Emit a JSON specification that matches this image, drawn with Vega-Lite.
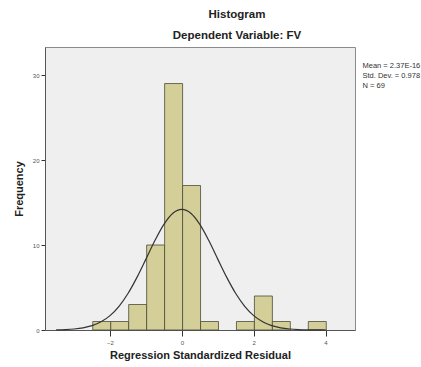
{
  "$schema": "https://vega.github.io/schema/vega-lite/v6.json",
  "autosize": "none",
  "width": 310,
  "height": 283,
  "padding": {"left": 45, "top": 47, "right": 66, "bottom": 37},
  "background": "white",
  "title": {
    "text": "Histogram",
    "subtitle": "Dependent Variable: FV",
    "anchor": "middle",
    "dx": 37,
    "offset": 6,
    "font": "Liberation Sans",
    "fontSize": 11.5,
    "fontWeight": "bold",
    "color": "#222",
    "subtitleFont": "Liberation Sans",
    "subtitleFontSize": 11.5,
    "subtitleFontWeight": "bold",
    "subtitleColor": "#222",
    "subtitlePadding": 9
  },
  "config": {
    "view": {"fill": "#efefef", "stroke": "#8a8a8a", "strokeWidth": 1},
    "font": "Liberation Sans"
  },
  "datasets": {
    "bins": [
      {"start": -2.48, "end": -1.98, "count": 1},
      {"start": -1.98, "end": -1.48, "count": 1},
      {"start": -1.48, "end": -0.98, "count": 3},
      {"start": -0.98, "end": -0.48, "count": 10},
      {"start": -0.48, "end": 0.02, "count": 29},
      {"start": 0.02, "end": 0.52, "count": 17},
      {"start": 0.52, "end": 1.02, "count": 1},
      {"start": 1.52, "end": 2.02, "count": 1},
      {"start": 2.02, "end": 2.52, "count": 4},
      {"start": 2.52, "end": 3.02, "count": 1},
      {"start": 3.52, "end": 4.02, "count": 1}
    ],
    "curve": [
      {"x": -3.5, "y": 0.021}, {"x": -3.25, "y": 0.052}, {"x": -3.0, "y": 0.119},
      {"x": -2.75, "y": 0.255}, {"x": -2.5, "y": 0.51}, {"x": -2.25, "y": 0.96},
      {"x": -2.0, "y": 1.69}, {"x": -1.75, "y": 2.79}, {"x": -1.5, "y": 4.29},
      {"x": -1.25, "y": 6.19}, {"x": -1.0, "y": 8.34}, {"x": -0.75, "y": 10.52},
      {"x": -0.5, "y": 12.42}, {"x": -0.25, "y": 13.73}, {"x": 0.0, "y": 14.19},
      {"x": 0.25, "y": 13.73}, {"x": 0.5, "y": 12.42}, {"x": 0.75, "y": 10.52},
      {"x": 1.0, "y": 8.34}, {"x": 1.25, "y": 6.19}, {"x": 1.5, "y": 4.29},
      {"x": 1.75, "y": 2.79}, {"x": 2.0, "y": 1.69}, {"x": 2.25, "y": 0.96},
      {"x": 2.5, "y": 0.51}, {"x": 2.75, "y": 0.255}, {"x": 3.0, "y": 0.119},
      {"x": 3.25, "y": 0.052}, {"x": 3.5, "y": 0.021}, {"x": 3.75, "y": 0.008},
      {"x": 4.0, "y": 0.003}
    ],
    "stats": [
      {"stat": "Mean = 2.37E-16", "order": 1},
      {"stat": "Std. Dev. = 0.978", "order": 2},
      {"stat": "N = 69", "order": 3}
    ]
  },
  "layer": [
    {
      "data": {"name": "bins"},
      "mark": {"type": "rect", "fill": "#d4cf98", "stroke": "#4a4a3a", "strokeWidth": 0.8},
      "encoding": {
        "x": {
          "field": "start", "type": "quantitative",
          "scale": {"domain": [-3.81, 4.82], "nice": false, "zero": false},
          "axis": {
            "values": [-2, 0, 2, 4],
            "title": "Regression Standardized Residual",
            "titleFontSize": 11, "titleFontWeight": "bold", "titleColor": "#222",
            "titlePadding": 4,
            "labelFontSize": 6, "labelColor": "#555", "labelPadding": 3,
            "tickSize": 6, "tickColor": "#333", "domain": true, "domainColor": "#555",
            "grid": false
          }
        },
        "x2": {"field": "end"},
        "y": {
          "field": "count", "type": "quantitative",
          "scale": {"domain": [0, 33.3], "nice": false},
          "axis": {
            "values": [0, 10, 20, 30],
            "title": "Frequency",
            "titleFontSize": 11, "titleFontWeight": "bold", "titleColor": "#222",
            "titlePadding": 8,
            "labelFontSize": 6, "labelColor": "#555", "labelPadding": 2,
            "tickSize": 4, "tickColor": "#333", "domainColor": "#555",
            "grid": false
          }
        },
        "y2": {"datum": 0}
      }
    },
    {
      "data": {"name": "curve"},
      "mark": {"type": "line", "color": "#333333", "strokeWidth": 1.2, "interpolate": "monotone"},
      "encoding": {
        "x": {"field": "x", "type": "quantitative"},
        "y": {"field": "y", "type": "quantitative"}
      }
    },
    {
      "data": {"name": "stats"},
      "mark": {"type": "point", "opacity": 0},
      "encoding": {
        "x": {"datum": 0},
        "y": {"datum": 0},
        "color": {
          "field": "stat", "type": "nominal",
          "sort": {"field": "order"},
          "scale": {"range": ["#333", "#333", "#333"]},
          "legend": {
            "title": " ",
            "titleFontSize": 6,
            "titlePadding": 9,
            "orient": "right",
            "offset": 0,
            "padding": 0,
            "symbolSize": 0,
            "symbolOpacity": 0,
            "symbolStrokeWidth": 0,
            "labelFontSize": 7.5,
            "labelColor": "#333",
            "labelOffset": 0,
            "labelLimit": 120,
            "rowPadding": 1,
            "symbolOffset": 0
          }
        }
      }
    }
  ]
}
